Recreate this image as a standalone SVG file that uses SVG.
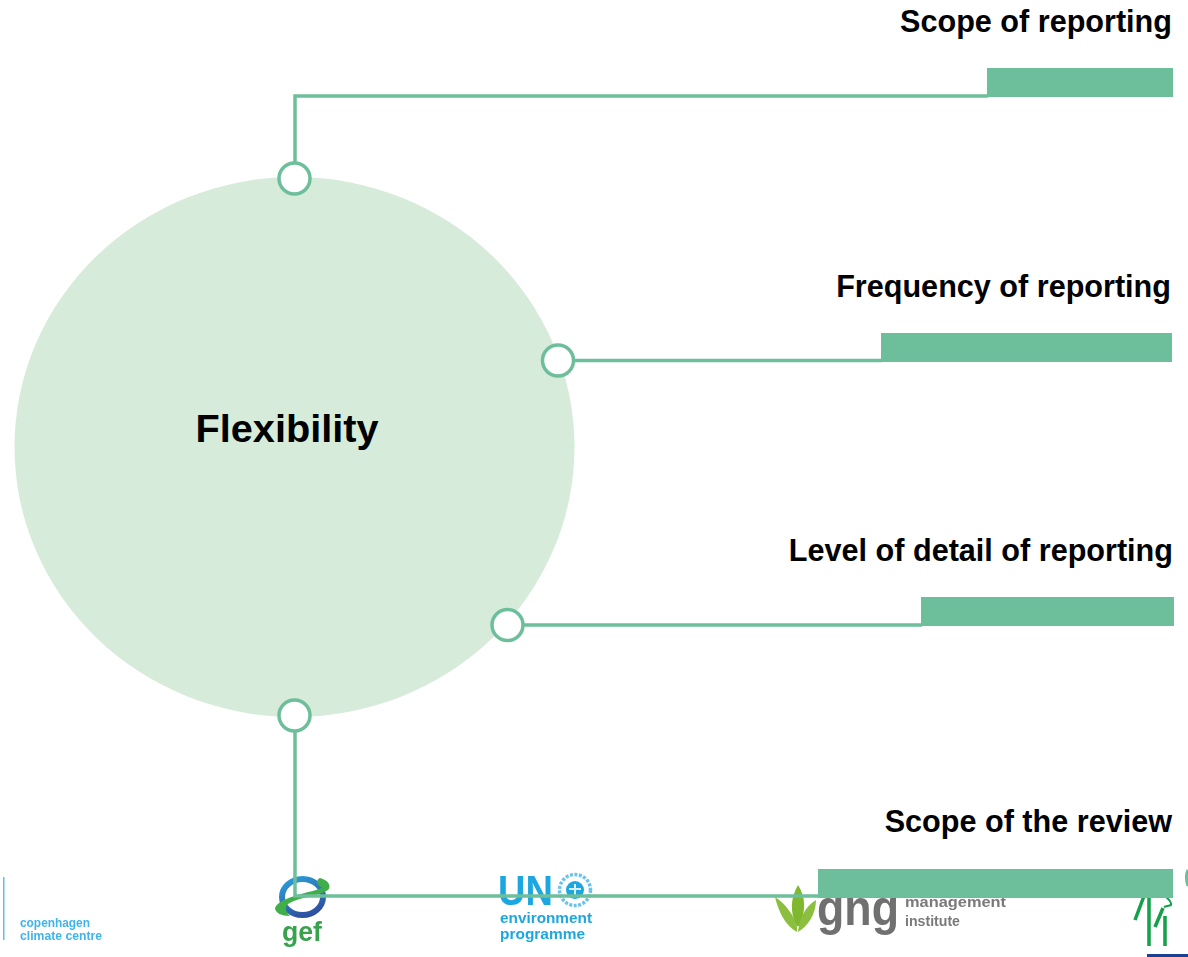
<svg xmlns="http://www.w3.org/2000/svg" width="1188" height="957" viewBox="0 0 1188 957">
<style>
.lbl{font-family:"Liberation Sans",Arial,sans-serif;font-weight:700;font-size:30.6px;fill:#000;text-anchor:end}
.bar{fill:#6dbf9b}
.conn{fill:none;stroke:#6dbf9b;stroke-width:3.5}
.port{fill:#fff;stroke:#6dbf9b;stroke-width:3.5}
.logo{font-family:"Liberation Sans",Arial,sans-serif;font-weight:700}
</style>
<defs>
<linearGradient id="ring" x1="0.2" y1="0" x2="0.7" y2="1"><stop offset="0" stop-color="#2c9ad6"/><stop offset="1" stop-color="#2f4f9f"/></linearGradient>
<filter id="soft" x="-5%" y="-5%" width="110%" height="110%"><feGaussianBlur stdDeviation="0.7"/></filter>
</defs>
<rect width="1188" height="957" fill="#fff"/>
<g id="logos" filter="url(#soft)">
<rect x="3" y="877" width="1.5" height="63" fill="#5cc0e8"/>
<text class="logo" x="20" y="926.500" font-size="12" fill="#3fb4ea" textLength="70" lengthAdjust="spacingAndGlyphs">copenhagen</text>
<text class="logo" x="20" y="940" font-size="12" fill="#3fb4ea" textLength="82" lengthAdjust="spacingAndGlyphs">climate centre</text>
<ellipse cx="302.500" cy="897" rx="20.500" ry="18" fill="none" stroke="url(#ring)" stroke-width="6"/>
<path d="M275 908C280 897 305 894 322 888C316 884 316 880 320 878C328 880 332 886 328 890C318 897 298 897 288 904C284 908 286 912 290 916C282 916 275 913 275 908Z" fill="#3fae49"/>
<text class="logo" x="282" y="941" font-size="27" fill="#37a24d" textLength="40" lengthAdjust="spacingAndGlyphs">gef</text>
<text class="logo" x="498" y="905" font-size="42" fill="#1ea7e1" textLength="55" lengthAdjust="spacingAndGlyphs">UN</text>
<circle cx="575" cy="890" r="15.500" fill="none" stroke="#6cc3ea" stroke-width="3.500" stroke-dasharray="3 1.500"/>
<circle cx="575" cy="890" r="9" fill="#1ea7e1"/>
<path d="M575 884V896M569 889H581" stroke="#d8f0fa" stroke-width="2"/>
<text class="logo" x="500" y="923" font-size="15.500" fill="#1ea7e1" textLength="92" lengthAdjust="spacingAndGlyphs">environment</text>
<text class="logo" x="500" y="939" font-size="15.500" fill="#1ea7e1" textLength="85" lengthAdjust="spacingAndGlyphs">programme</text>
<path d="M797 932C785 926 778 910 775 897C786 904 794 916 797 926Z" fill="#8cbf3f"/>
<path d="M797 926C789 912 791 897 798 885C806 897 806 912 799 926Z" fill="#7fb82f"/>
<path d="M798 932C808 926 816 914 816 900C806 906 799 918 798 932Z" fill="#8cbf3f"/>
<text class="logo" x="817" y="925" font-size="50" fill="#6f6f6f" textLength="82" lengthAdjust="spacingAndGlyphs">gng</text>
<text class="logo" x="905" y="907" font-size="15" fill="#7a7a7a" textLength="101" lengthAdjust="spacingAndGlyphs">management</text>
<text class="logo" x="905" y="926" font-size="15" fill="#7a7a7a" textLength="55" lengthAdjust="spacingAndGlyphs">institute</text>
<path d="M1144 896L1135 920M1149 896V946M1165 916V946M1163 908L1155 927" fill="none" stroke="#12a04a" stroke-width="3.500"/>
<path d="M1165 896C1168 899 1172 901 1171 905C1169 906 1166 906 1164 907" fill="none" stroke="#12a04a" stroke-width="2"/>
<rect x="1147" y="954" width="41" height="3" fill="#1c3f94"/>
<path d="M1188 870C1186 874 1186 880 1188 886" fill="none" stroke="#6dbf9b" stroke-width="3"/>
</g>
<g id="flexibility">
<ellipse cx="294.500" cy="447" rx="280" ry="270" fill="#d7ebda"/>
<text x="287" y="442" font-family="'Liberation Sans',Arial,sans-serif" font-weight="700" font-size="39.700" text-anchor="middle" fill="#000">Flexibility</text>
</g>
<g id="connectors">
<path class="conn" d="M295 162V96H988"/>
<path class="conn" d="M575 360.500H882"/>
<path class="conn" d="M524 625H922"/>
<path class="conn" d="M295 731V896H819"/>
</g>
<g id="node-scope-reporting">
<text class="lbl" x="1172" y="32">Scope of reporting</text>
<rect class="bar" x="987" y="68" width="186" height="29"/>
<circle class="port" cx="294.500" cy="178.500" r="15.500"/>
</g>
<g id="node-frequency">
<text class="lbl" x="1171" y="297">Frequency of reporting</text>
<rect class="bar" x="881" y="333" width="291" height="29"/>
<circle class="port" cx="558" cy="360.500" r="15.500"/>
</g>
<g id="node-detail">
<text class="lbl" x="1173" y="561">Level of detail of reporting</text>
<rect class="bar" x="921" y="597" width="253" height="29"/>
<circle class="port" cx="507.500" cy="625" r="15.500"/>
</g>
<g id="node-review">
<text class="lbl" x="1172" y="832">Scope of the review</text>
<rect class="bar" x="818" y="869" width="355" height="29"/>
<circle class="port" cx="294.500" cy="715.500" r="15.500"/>
</g>
</svg>
